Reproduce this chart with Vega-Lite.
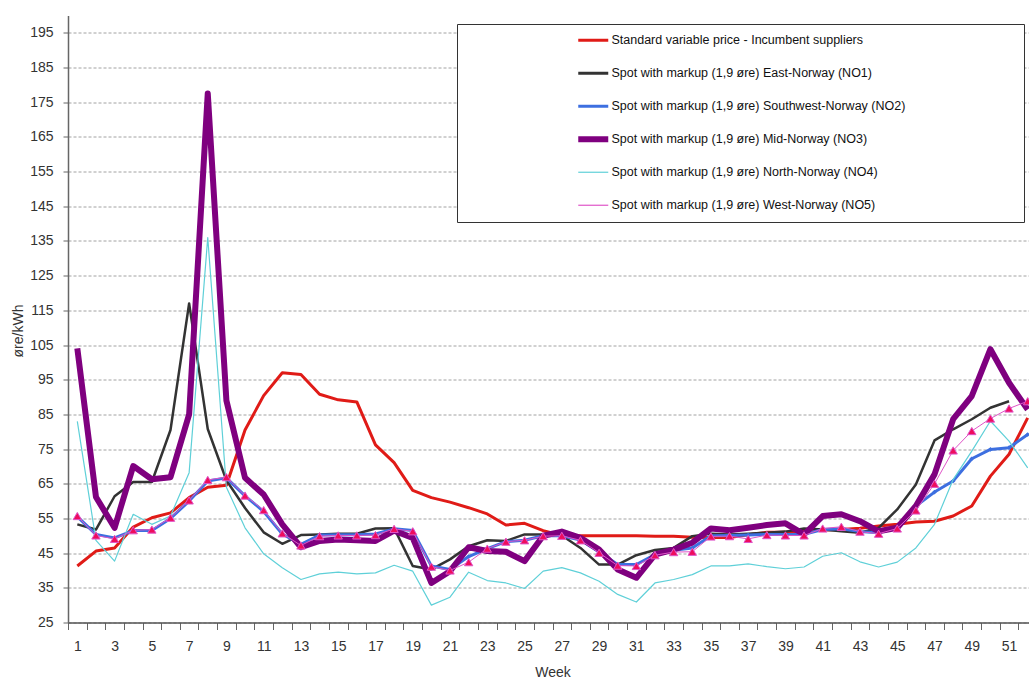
{
  "$schema": "https://vega.github.io/schema/vega-lite/v6.json",
  "width": 969,
  "height": 607,
  "autosize": {"type": "none"},
  "padding": {"left": 68, "top": 15.5, "right": 0, "bottom": 59.5},
  "background": "white",
  "config": {
    "font": "Liberation Sans",
    "view": {"stroke": null},
    "axis": {"labelFontSize": 14, "labelColor": "#333333", "titleFontSize": 14, "titleFontWeight": "normal", "titleColor": "#333333", "domainColor": "#666666", "tickColor": "#666666"}
  },
  "data": {
    "values": [
      {"w": 1, "S": 41.3, "NO1": 53.3, "NO2": 55.5, "NO3": 104, "NO4": 83, "NO5": 55.7},
      {"w": 2, "S": 45.6, "NO1": 51.8, "NO2": 50.4, "NO3": 61.2, "NO4": 48.7, "NO5": 50.1},
      {"w": 3, "S": 46.5, "NO1": 61.4, "NO2": 49.4, "NO3": 52.3, "NO4": 42.7, "NO5": 49.1},
      {"w": 4, "S": 52.5, "NO1": 65.5, "NO2": 51.5, "NO3": 70.1, "NO4": 56.2, "NO5": 51.6},
      {"w": 5, "S": 55.2, "NO1": 65.5, "NO2": 51.5, "NO3": 66.3, "NO4": 53.3, "NO5": 51.8},
      {"w": 6, "S": 56.6, "NO1": 80.5, "NO2": 55, "NO3": 66.9, "NO4": 55.7, "NO5": 55.2},
      {"w": 7, "S": 61, "NO1": 117, "NO2": 60, "NO3": 85, "NO4": 68.2, "NO5": 60.2},
      {"w": 8, "S": 64, "NO1": 80.8, "NO2": 65.8, "NO3": 177.5, "NO4": 136, "NO5": 66.1},
      {"w": 9, "S": 64.6, "NO1": 66, "NO2": 66.7, "NO3": 89, "NO4": 64, "NO5": 66.9},
      {"w": 10, "S": 80.5, "NO1": 58, "NO2": 61.5, "NO3": 66.7, "NO4": 52.3, "NO5": 61.6},
      {"w": 11, "S": 90.4, "NO1": 51, "NO2": 57, "NO3": 61.9, "NO4": 44.8, "NO5": 57.4},
      {"w": 12, "S": 97, "NO1": 47.7, "NO2": 50.5, "NO3": 53.3, "NO4": 40.8, "NO5": 50.7},
      {"w": 13, "S": 96.5, "NO1": 50.2, "NO2": 47.5, "NO3": 46.7, "NO4": 37.4, "NO5": 47.2},
      {"w": 14, "S": 90.8, "NO1": 50.4, "NO2": 50.2, "NO3": 48.5, "NO4": 39, "NO5": 49.9},
      {"w": 15, "S": 89.2, "NO1": 50.6, "NO2": 50.3, "NO3": 48.9, "NO4": 39.5, "NO5": 50.1},
      {"w": 16, "S": 88.6, "NO1": 50.6, "NO2": 50.3, "NO3": 48.7, "NO4": 39, "NO5": 50.1},
      {"w": 17, "S": 76.2, "NO1": 52.1, "NO2": 50.5, "NO3": 48.5, "NO4": 39.3, "NO5": 50.2},
      {"w": 18, "S": 71.1, "NO1": 52.2, "NO2": 52, "NO3": 51.5, "NO4": 41.5, "NO5": 52},
      {"w": 19, "S": 63.1, "NO1": 41.3, "NO2": 51.5, "NO3": 49.4, "NO4": 39.8, "NO5": 51.3},
      {"w": 20, "S": 61, "NO1": 40.3, "NO2": 41.3, "NO3": 36.4, "NO4": 30, "NO5": 41.1},
      {"w": 21, "S": 59.7, "NO1": 43.2, "NO2": 40.3, "NO3": 39.8, "NO4": 32.3, "NO5": 40},
      {"w": 22, "S": 58.1, "NO1": 47, "NO2": 44, "NO3": 46.7, "NO4": 39.5, "NO5": 42.4},
      {"w": 23, "S": 56.3, "NO1": 48.7, "NO2": 46.3, "NO3": 45.6, "NO4": 37.1, "NO5": 46.3},
      {"w": 24, "S": 53.1, "NO1": 48.5, "NO2": 48.3, "NO3": 45.4, "NO4": 36.4, "NO5": 48.3},
      {"w": 25, "S": 53.6, "NO1": 50.4, "NO2": 48.7, "NO3": 42.7, "NO4": 34.8, "NO5": 48.7},
      {"w": 26, "S": 51.5, "NO1": 50.4, "NO2": 50, "NO3": 50, "NO4": 39.8, "NO5": 49.9},
      {"w": 27, "S": 50.1, "NO1": 50.1, "NO2": 50, "NO3": 51.2, "NO4": 40.8, "NO5": 50},
      {"w": 28, "S": 50, "NO1": 46.5, "NO2": 48.8, "NO3": 49.4, "NO4": 39.3, "NO5": 48.7},
      {"w": 29, "S": 50, "NO1": 41.7, "NO2": 45.3, "NO3": 46, "NO4": 36.9, "NO5": 45.1},
      {"w": 30, "S": 50, "NO1": 41.7, "NO2": 41.7, "NO3": 40.3, "NO4": 33.1, "NO5": 41.4},
      {"w": 31, "S": 50, "NO1": 44.4, "NO2": 41.7, "NO3": 37.9, "NO4": 30.9, "NO5": 41.3},
      {"w": 32, "S": 49.9, "NO1": 45.9, "NO2": 44.6, "NO3": 44.6, "NO4": 36.4, "NO5": 44.4},
      {"w": 33, "S": 49.9, "NO1": 46.5, "NO2": 45.8, "NO3": 46, "NO4": 37.4, "NO5": 45.3},
      {"w": 34, "S": 49.6, "NO1": 49.9, "NO2": 46.5, "NO3": 48, "NO4": 38.8, "NO5": 45.4},
      {"w": 35, "S": 49.5, "NO1": 50.6, "NO2": 50, "NO3": 52.1, "NO4": 41.3, "NO5": 49.8},
      {"w": 36, "S": 49.5, "NO1": 50.4, "NO2": 50.1, "NO3": 51.6, "NO4": 41.3, "NO5": 49.9},
      {"w": 37, "S": 50.3, "NO1": 50.6, "NO2": 50.2, "NO3": 52.3, "NO4": 41.9, "NO5": 49.1},
      {"w": 38, "S": 51, "NO1": 50.9, "NO2": 50.4, "NO3": 53.1, "NO4": 41.1, "NO5": 50.2},
      {"w": 39, "S": 51, "NO1": 51.2, "NO2": 50.4, "NO3": 53.6, "NO4": 40.5, "NO5": 50.1},
      {"w": 40, "S": 51.4, "NO1": 52.1, "NO2": 50.4, "NO3": 50.4, "NO4": 41, "NO5": 50.1},
      {"w": 41, "S": 51.7, "NO1": 51.8, "NO2": 51.8, "NO3": 55.7, "NO4": 44.1, "NO5": 52.1},
      {"w": 42, "S": 51.8, "NO1": 51.3, "NO2": 52, "NO3": 56.2, "NO4": 45.1, "NO5": 52.6},
      {"w": 43, "S": 52.2, "NO1": 50.9, "NO2": 51.2, "NO3": 54.2, "NO4": 42.5, "NO5": 51.2},
      {"w": 44, "S": 52.8, "NO1": 52.3, "NO2": 50.9, "NO3": 51.3, "NO4": 41, "NO5": 50.6},
      {"w": 45, "S": 53.3, "NO1": 57.6, "NO2": 52.3, "NO3": 52.3, "NO4": 42.4, "NO5": 52.1},
      {"w": 46, "S": 54, "NO1": 64.8, "NO2": 58.6, "NO3": 58.6, "NO4": 46.5, "NO5": 57.3},
      {"w": 47, "S": 54.2, "NO1": 77.5, "NO2": 62.6, "NO3": 67.7, "NO4": 53.3, "NO5": 65},
      {"w": 48, "S": 55.7, "NO1": 80.7, "NO2": 65.8, "NO3": 83.6, "NO4": 66.2, "NO5": 74.6},
      {"w": 49, "S": 58.6, "NO1": 83.6, "NO2": 72.2, "NO3": 90.3, "NO4": 74.4, "NO5": 80.2},
      {"w": 50, "S": 67.2, "NO1": 86.9, "NO2": 74.9, "NO3": 103.8, "NO4": 83.1, "NO5": 83.8},
      {"w": 51, "S": 73.5, "NO1": 88.8, "NO2": 75.4, "NO3": 94.1, "NO4": 77.3, "NO5": 86.7},
      {"w": 52, "S": 84, "NO2": 79.2, "NO3": 86.4, "NO4": 69.6, "NO5": 88.8}
    ]
  },
  "transform": [{"fold": ["S", "NO1", "NO2", "NO3", "NO4", "NO5"], "as": ["series", "price"]}],
  "encoding": {
    "x": {
      "field": "w", "type": "quantitative",
      "scale": {"domain": [0.5, 52.5], "nice": false, "zero": false},
      "axis": {
        "title": "Week",
        "values": [0.5, 1.5, 2.5, 3.5, 4.5, 5.5, 6.5, 7.5, 8.5, 9.5, 10.5, 11.5, 12.5, 13.5, 14.5, 15.5, 16.5, 17.5, 18.5, 19.5, 20.5, 21.5, 22.5, 23.5, 24.5, 25.5, 26.5, 27.5, 28.5, 29.5, 30.5, 31.5, 32.5, 33.5, 34.5, 35.5, 36.5, 37.5, 38.5, 39.5, 40.5, 41.5, 42.5, 43.5, 44.5, 45.5, 46.5, 47.5, 48.5, 49.5, 50.5, 51.5],
        "labelExpr": "(datum.value + 0.5) % 2 == 1 ? format(datum.value + 0.5, 'd') : ''",
        "labelOffset": 9.3,
        "labelFlush": false,
        "labelOverlap": false,
        "labelBound": false,
        "grid": false,
        "tickSize": 7,
        "labelPadding": 10,
        "domainColor": "#555555",
        "domainWidth": 1.5,
        "titleY": 43,
        "titleBaseline": "top"
      }
    },
    "y": {
      "field": "price", "type": "quantitative",
      "scale": {"domain": [25, 200], "nice": false, "zero": false},
      "axis": {
        "title": "øre/kWh",
        "values": [25, 35, 45, 55, 65, 75, 85, 95, 105, 115, 125, 135, 145, 155, 165, 175, 185, 195],
        "grid": true,
        "gridDash": [3, 2],
        "gridColor": "#8a8a8a",
        "gridWidth": 0.8,
        "tickSize": 5,
        "labelPadding": 10,
        "domainWidth": 1.5,
        "titleX": -50,
        "titleY": 315,
        "titleAngle": -90,
        "titleBaseline": "middle",
        "titleAlign": "center"
      }
    },
    "color": {
      "field": "series", "type": "nominal", "title": "\u00a0",
      "scale": {"domain": ["S", "NO1", "NO2", "NO3", "NO4", "NO5"], "range": ["#e01b17", "#333333", "#3d6fe0", "#7f007f", "#5fd0d8", "#e055c8"]},
      "legend": {
        "orient": "none", "legendX": 389, "legendY": 8.5, "direction": "vertical",
        "symbolType": "stroke", "symbolSize": 900, "symbolOffset": 120, "labelOffset": 12,
        "padding": 10, "strokeColor": "#333333", "fillColor": "white",
        "labelFontSize": 12.5, "labelColor": "#111111", "rowPadding": 8, "gridAlign": "all", "labelLimit": 400,
        "titleOrient": "right", "titlePadding": 109, "titleFontSize": 1,
        "labelExpr": "datum.value == 'S' ? 'Standard variable price - Incumbent suppliers' : datum.value == 'NO1' ? 'Spot with markup (1,9 øre) East-Norway (NO1)' : datum.value == 'NO2' ? 'Spot with markup (1,9 øre) Southwest-Norway (NO2)' : datum.value == 'NO3' ? 'Spot with markup (1,9 øre) Mid-Norway (NO3)' : datum.value == 'NO4' ? 'Spot with markup (1,9 øre) North-Norway (NO4)' : 'Spot with markup (1,9 øre) West-Norway (NO5)'",
        "encode": {"symbols": {"update": {"strokeWidth": {"signal": "datum.value == 'NO3' ? 6 : (datum.value == 'NO4' || datum.value == 'NO5') ? 1.2 : 3"}}}}
      }
    }
  },
  "layer": [
    {
      "transform": [{"filter": {"field": "series", "equal": "S"}}],
      "mark": {"type": "line", "strokeJoin": "round", "strokeWidth": 3}
    },
    {
      "transform": [{"filter": {"field": "series", "equal": "NO1"}}],
      "mark": {"type": "line", "strokeJoin": "round", "strokeWidth": 2.5}
    },
    {
      "transform": [{"filter": {"field": "series", "equal": "NO2"}}],
      "mark": {"type": "line", "strokeJoin": "round", "strokeWidth": 3}
    },
    {
      "transform": [{"filter": {"field": "series", "equal": "NO2"}}],
      "mark": {"type": "point", "shape": "diamond", "filled": true, "size": 22, "opacity": 1}
    },
    {
      "transform": [{"filter": {"field": "series", "equal": "NO3"}}],
      "mark": {"type": "line", "strokeJoin": "round", "strokeWidth": 6}
    },
    {
      "transform": [{"filter": {"field": "series", "equal": "NO4"}}],
      "mark": {"type": "line", "strokeJoin": "round", "strokeWidth": 1.2}
    },
    {
      "transform": [{"filter": {"field": "series", "equal": "NO5"}}],
      "mark": {"type": "line", "strokeJoin": "round", "strokeWidth": 1}
    },
    {
      "transform": [{"filter": {"field": "series", "equal": "NO5"}}],
      "mark": {"type": "point", "shape": "triangle-up", "filled": true, "size": 70, "opacity": 1, "stroke": "#e055c8", "strokeWidth": 1},
      "encoding": {"color": {"value": "#ee0d5c"}}
    }
  ]
}
